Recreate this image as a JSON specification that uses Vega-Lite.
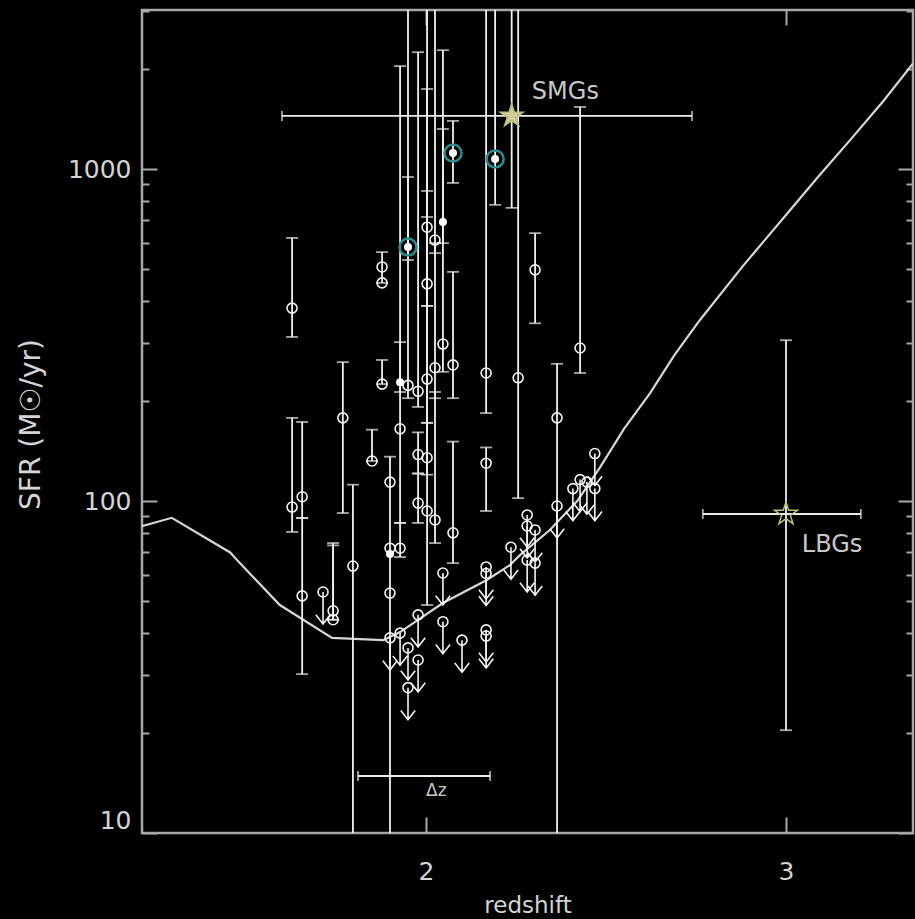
{
  "$schema": "https://vega.github.io/schema/vega-lite/v6.json",
  "width": 771,
  "height": 823,
  "autosize": {"type": "none"},
  "padding": {"left": 142, "top": 10, "right": 2, "bottom": 86},
  "background": "#000000",
  "config": {
    "view": {"stroke": "#a8a8a8", "strokeWidth": 2.5},
    "axis": {"domain": false, "grid": false, "tickColor": "#a8a8a8", "tickWidth": 2, "labelColor": "#d4d4d4", "labelFont": "DejaVu Sans", "labelFontSize": 25, "titleColor": "#d4d4d4", "titleFont": "DejaVu Sans", "titleFontSize": 25, "titleFontWeight": "normal"}
  },
  "datasets": {
    "curve": [
      {"z": 1.211, "sfr": 84}, {"z": 1.294, "sfr": 89}, {"z": 1.456, "sfr": 70}, {"z": 1.483, "sfr": 65},
      {"z": 1.594, "sfr": 48.6}, {"z": 1.739, "sfr": 38.7}, {"z": 1.881, "sfr": 38.1}, {"z": 1.928, "sfr": 40.3},
      {"z": 2.047, "sfr": 49.3}, {"z": 2.169, "sfr": 57.8}, {"z": 2.233, "sfr": 64.1}, {"z": 2.261, "sfr": 68.7},
      {"z": 2.344, "sfr": 81.8}, {"z": 2.42, "sfr": 100}, {"z": 2.483, "sfr": 126}, {"z": 2.55, "sfr": 165},
      {"z": 2.622, "sfr": 211}, {"z": 2.69, "sfr": 275}, {"z": 2.761, "sfr": 351}, {"z": 2.88, "sfr": 510},
      {"z": 3.0, "sfr": 727}, {"z": 3.09, "sfr": 950}, {"z": 3.178, "sfr": 1222}, {"z": 3.27, "sfr": 1600},
      {"z": 3.353, "sfr": 2080}
    ],
    "pts": [
      {"z": 1.628, "v": 381, "lo": 312, "hi": 620, "k": "o"},
      {"z": 1.628, "v": 95.9, "lo": 80.7, "hi": 178, "k": "o"},
      {"z": 1.656, "v": 103, "lo": 88.9, "hi": 173, "k": "o"},
      {"z": 1.656, "v": 51.8, "lo": 30.1, "hi": 88.9, "k": "o"},
      {"z": 1.714, "v": 53.2, "k": "u"},
      {"z": 1.742, "v": 46.7, "lo": 43.9, "hi": 74.7, "k": "o"},
      {"z": 1.742, "v": 43.9, "lo": 43.9, "hi": 73.5, "k": "o"},
      {"z": 1.769, "v": 178, "lo": 92, "hi": 262, "k": "o"},
      {"z": 1.797, "v": 63.7, "lo": 5, "hi": 112, "k": "o"},
      {"z": 1.85, "v": 132, "lo": 132, "hi": 164, "k": "o"},
      {"z": 1.878, "v": 507, "lo": 454, "hi": 562, "k": "o"},
      {"z": 1.878, "v": 454, "k": "o"},
      {"z": 1.878, "v": 225, "lo": 225, "hi": 266, "k": "o"},
      {"z": 1.9, "v": 114, "lo": 5, "hi": 136, "k": "o"},
      {"z": 1.9, "v": 72.1, "k": "o"},
      {"z": 1.9, "v": 69.2, "k": "f"},
      {"z": 1.9, "v": 52.8, "k": "o"},
      {"z": 1.9, "v": 38.7, "k": "u"},
      {"z": 1.928, "v": 228, "lo": 213, "hi": 301, "k": "f"},
      {"z": 1.928, "v": 165, "lo": 85.9, "hi": 2042, "k": "o"},
      {"z": 1.928, "v": 72.1, "lo": 67.8, "hi": 85.9, "k": "o"},
      {"z": 1.928, "v": 40, "k": "u"},
      {"z": 1.95, "v": 582, "lo": 532, "hi": 5000, "k": "c"},
      {"z": 1.95, "v": 223, "lo": 204, "hi": 946, "k": "o"},
      {"z": 1.95, "v": 36.1, "k": "u"},
      {"z": 1.95, "v": 27.4, "k": "u"},
      {"z": 1.978, "v": 214, "lo": 192, "hi": 2249, "k": "o"},
      {"z": 1.978, "v": 138, "lo": 121, "hi": 161, "k": "o"},
      {"z": 1.978, "v": 98.6, "lo": 85.9, "hi": 121, "k": "o"},
      {"z": 1.978, "v": 45.4, "k": "u"},
      {"z": 1.978, "v": 33.2, "k": "u"},
      {"z": 2.003, "v": 668, "lo": 387, "hi": 1742, "k": "o"},
      {"z": 2.003, "v": 451, "lo": 387, "hi": 717, "k": "o"},
      {"z": 2.003, "v": 233, "lo": 172, "hi": 5000, "k": "o"},
      {"z": 2.003, "v": 135, "lo": 120, "hi": 172, "k": "o"},
      {"z": 2.003, "v": 93.3, "lo": 48.6, "hi": 859, "k": "o"},
      {"z": 2.025, "v": 611, "lo": 558, "hi": 5000, "k": "o"},
      {"z": 2.025, "v": 252, "lo": 204, "hi": 598, "k": "o"},
      {"z": 2.025, "v": 87.7, "lo": 74.7, "hi": 213, "k": "o"},
      {"z": 2.047, "v": 692, "lo": 598, "hi": 2280, "k": "f"},
      {"z": 2.047, "v": 297, "lo": 245, "hi": 1320, "k": "o"},
      {"z": 2.047, "v": 60.7, "k": "u"},
      {"z": 2.047, "v": 43.3, "k": "u"},
      {"z": 2.075, "v": 1117, "lo": 908, "hi": 1396, "k": "c"},
      {"z": 2.075, "v": 257, "lo": 204, "hi": 490, "k": "o"},
      {"z": 2.075, "v": 80.2, "lo": 65, "hi": 151, "k": "o"},
      {"z": 2.1, "v": 38.1, "k": "u"},
      {"z": 2.167, "v": 243, "lo": 184, "hi": 5000, "k": "o"},
      {"z": 2.167, "v": 130, "lo": 93.3, "hi": 145, "k": "o"},
      {"z": 2.167, "v": 63.3, "k": "u"},
      {"z": 2.167, "v": 60.5, "k": "u"},
      {"z": 2.167, "v": 40.9, "k": "u"},
      {"z": 2.167, "v": 39.2, "k": "u"},
      {"z": 2.192, "v": 1072, "lo": 780, "hi": 5000, "k": "c"},
      {"z": 2.236, "v": 72.6, "k": "u"},
      {"z": 2.256, "v": 235, "lo": 102, "hi": 5000, "k": "o"},
      {"z": 2.281, "v": 90.8, "k": "u"},
      {"z": 2.281, "v": 84.1, "k": "u"},
      {"z": 2.281, "v": 66.4, "k": "u"},
      {"z": 2.303, "v": 497, "lo": 343, "hi": 641, "k": "o"},
      {"z": 2.303, "v": 81.8, "k": "u"},
      {"z": 2.303, "v": 65, "k": "u"},
      {"z": 2.364, "v": 178, "lo": 5, "hi": 259, "k": "o"},
      {"z": 2.364, "v": 96.6, "k": "u"},
      {"z": 2.408, "v": 109, "k": "u"},
      {"z": 2.428, "v": 289, "lo": 243, "hi": 1538, "k": "o"},
      {"z": 2.428, "v": 116, "k": "u"},
      {"z": 2.447, "v": 114, "k": "u"},
      {"z": 2.469, "v": 139, "k": "u"},
      {"z": 2.469, "v": 109, "k": "u"},
      {"z": 2.238, "v": 1445, "lo": 764, "hi": 5000, "k": "sf"},
      {"z": 3.0, "v": 91.4, "lo": 20.4, "hi": 305, "k": "so"}
    ],
    "hbars": [
      {"z1": 1.6, "z2": 2.739, "v": 1445},
      {"z1": 2.769, "z2": 3.208, "v": 91.4},
      {"z1": 1.811, "z2": 2.178, "v": 14.85}
    ],
    "labels": [
      {"t": "SMGs", "z": 2.294, "v": 1706},
      {"t": "LBGs", "z": 3.044, "v": 73.6},
      {"t": "Δz", "z": 2.0, "v": 13.4}
    ]
  },
  "resolve": {"scale": {"x": "shared", "y": "shared"}, "axis": {"x": "independent", "y": "independent"}},
  "layer": [
    {
      "data": {"name": "curve"},
      "mark": {"type": "line", "color": "#d6d6d6", "strokeWidth": 2.2, "clip": true},
      "encoding": {
        "x": {"field": "z", "type": "quantitative", "scale": {"domain": [1.2111, 3.3528], "nice": false, "zero": false},
              "axis": {"orient": "bottom", "values": [2, 3], "format": "d", "tickSize": -16, "labelPadding": 42, "title": "redshift", "titleFontSize": 23, "titleBaseline": "alphabetic", "titleY": 79}},
        "y": {"field": "sfr", "type": "quantitative", "scale": {"type": "log", "domain": [10, 3013], "nice": false},
              "axis": {"orient": "left", "values": [10, 100, 1000], "format": "d", "tickSize": -15, "labelPadding": 26, "labelFlush": true, "title": "SFR (M☉/yr)", "titleFontSize": 28, "titleBaseline": "middle", "titleX": -111, "titleY": 414}}
      }
    },
    {
      "data": {"name": "pts"},
      "transform": [{"filter": "isValid(datum.lo)"}],
      "mark": {"type": "rule", "color": "#f0f0f0", "strokeWidth": 1.8, "clip": true},
      "encoding": {
        "x": {"field": "z", "type": "quantitative", "scale": {"domain": [1.2111, 3.3528], "nice": false, "zero": false},
              "axis": {"orient": "top", "values": [2, 3], "tickSize": -15, "labels": false, "title": null}},
        "y": {"field": "lo", "type": "quantitative", "scale": {"type": "log", "domain": [10, 3013], "nice": false},
              "axis": {"orient": "left", "values": [20, 30, 40, 50, 60, 70, 80, 90, 200, 300, 400, 500, 600, 700, 800, 900, 2000, 3000], "tickSize": -7, "labels": false, "title": null}},
        "y2": {"field": "hi"}
      }
    },
    {
      "data": {"name": "pts"},
      "transform": [{"filter": "isValid(datum.lo)"}],
      "mark": {"type": "tick", "orient": "horizontal", "color": "#f0f0f0", "size": 12, "thickness": 1.8, "clip": true},
      "encoding": {
        "x": {"field": "z", "type": "quantitative", "axis": null},
        "y": {"field": "lo", "type": "quantitative",
              "axis": {"orient": "right", "values": [10, 100, 1000], "tickSize": -15, "labels": false, "title": null}}
      }
    },
    {
      "data": {"name": "pts"},
      "transform": [{"filter": "isValid(datum.hi)"}],
      "mark": {"type": "tick", "orient": "horizontal", "color": "#f0f0f0", "size": 12, "thickness": 1.8, "clip": true},
      "encoding": {
        "x": {"field": "z", "type": "quantitative", "axis": null},
        "y": {"field": "hi", "type": "quantitative",
              "axis": {"orient": "right", "values": [20, 30, 40, 50, 60, 70, 80, 90, 200, 300, 400, 500, 600, 700, 800, 900, 2000, 3000], "tickSize": -7, "labels": false, "title": null}}
      }
    },
    {
      "data": {"name": "pts"},
      "transform": [{"filter": "datum.k == 'o' || datum.k == 'u'"}],
      "mark": {"type": "point", "shape": "circle", "filled": false, "color": "#f4f4f4", "strokeWidth": 1.6, "size": 100, "opacity": 1, "clip": true},
      "encoding": {
        "x": {"field": "z", "type": "quantitative", "axis": null},
        "y": {"field": "v", "type": "quantitative", "axis": null}
      }
    },
    {
      "data": {"name": "pts"},
      "transform": [{"filter": "datum.k == 'u'"}],
      "mark": {"type": "point", "shape": "M0,0L0,4M-0.9,2.85L0,4L0.9,2.85", "filled": false, "color": "#f4f4f4", "strokeWidth": 1.6, "size": 256, "opacity": 1, "clip": true},
      "encoding": {
        "x": {"field": "z", "type": "quantitative", "axis": null},
        "y": {"field": "v", "type": "quantitative", "axis": null}
      }
    },
    {
      "data": {"name": "pts"},
      "transform": [{"filter": "datum.k == 'c'"}],
      "mark": {"type": "point", "shape": "circle", "filled": false, "color": "#2a8c8c", "strokeWidth": 2.5, "size": 289, "opacity": 1, "clip": true},
      "encoding": {
        "x": {"field": "z", "type": "quantitative", "axis": null},
        "y": {"field": "v", "type": "quantitative", "axis": null}
      }
    },
    {
      "data": {"name": "pts"},
      "transform": [{"filter": "datum.k == 'f' || datum.k == 'c'"}],
      "mark": {"type": "point", "shape": "circle", "filled": true, "color": "#ffffff", "size": 64, "opacity": 1, "clip": true},
      "encoding": {
        "x": {"field": "z", "type": "quantitative", "axis": null},
        "y": {"field": "v", "type": "quantitative", "axis": null}
      }
    },
    {
      "data": {"name": "hbars"},
      "mark": {"type": "rule", "color": "#ececec", "strokeWidth": 1.8},
      "encoding": {
        "x": {"field": "z1", "type": "quantitative", "axis": null},
        "x2": {"field": "z2"},
        "y": {"field": "v", "type": "quantitative", "axis": null}
      }
    },
    {
      "data": {"name": "hbars"},
      "mark": {"type": "tick", "orient": "vertical", "color": "#ececec", "size": 10, "thickness": 1.8},
      "encoding": {
        "x": {"field": "z1", "type": "quantitative", "axis": null},
        "y": {"field": "v", "type": "quantitative", "axis": null}
      }
    },
    {
      "data": {"name": "hbars"},
      "mark": {"type": "tick", "orient": "vertical", "color": "#ececec", "size": 10, "thickness": 1.8},
      "encoding": {
        "x": {"field": "z2", "type": "quantitative", "axis": null},
        "y": {"field": "v", "type": "quantitative", "axis": null}
      }
    },
    {
      "data": {"name": "pts"},
      "transform": [{"filter": "datum.k == 'sf' || datum.k == 'so'"}],
      "mark": {"type": "point", "shape": "M0,-1L0.225,-0.309L0.951,-0.309L0.363,0.118L0.588,0.809L0,0.382L-0.588,0.809L-0.363,0.118L-0.951,-0.309L-0.225,-0.309Z", "filled": true, "size": 576, "strokeWidth": 1.5, "opacity": 1},
      "encoding": {
        "x": {"field": "z", "type": "quantitative", "axis": null},
        "y": {"field": "v", "type": "quantitative", "axis": null},
        "fill": {"condition": {"test": "datum.k == 'sf'", "value": "#cdcd95"}, "value": "transparent"},
        "stroke": {"value": "#bdbd80"}
      }
    },
    {
      "data": {"name": "labels"},
      "mark": {"type": "text", "align": "left", "baseline": "middle", "font": "DejaVu Sans", "color": "#c8c8c8"},
      "encoding": {
        "x": {"field": "z", "type": "quantitative", "axis": null},
        "y": {"field": "v", "type": "quantitative", "axis": null},
        "text": {"field": "t"},
        "size": {"condition": {"test": "datum.t == 'Δz'", "value": 17}, "value": 24}
      }
    }
  ]
}
